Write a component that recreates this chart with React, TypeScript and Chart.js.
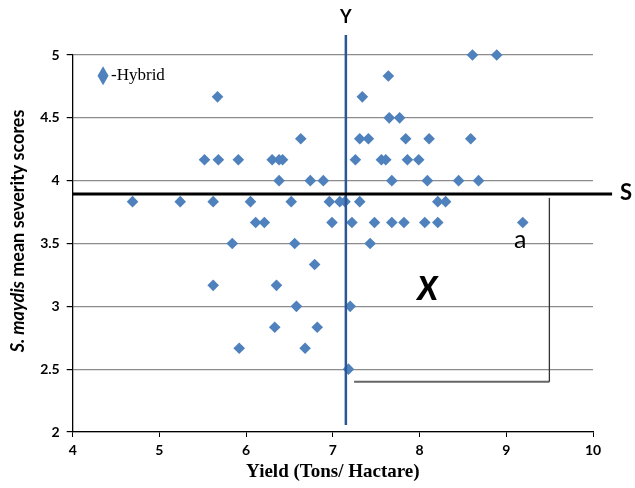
import React, { useEffect, useRef } from "react";
import { Chart, registerables } from "chart.js";

Chart.register(...registerables);

// Yield (Tons/Hactare) and S. maydis mean severity scores for each hybrid
const yieldValues: number[] = [
  8.61, 8.89,
  7.64,
  5.67, 7.34,
  7.65, 7.77,
  6.63, 7.31, 7.41, 7.84, 8.11, 8.59,
  5.52, 5.68, 5.91, 6.30, 6.38, 6.42, 7.26, 7.56, 7.61, 7.86, 7.99,
  6.38, 6.74, 6.89, 7.68, 8.09, 8.45, 8.68,
  4.69, 5.24, 5.62, 6.05, 6.52, 6.96, 7.08, 7.14, 7.31, 8.21, 8.30,
  6.11, 6.21, 6.99, 7.22, 7.48, 7.68, 7.82, 8.06, 8.21, 9.19,
  5.84, 6.56, 7.43,
  6.79,
  5.62, 6.35,
  6.58, 7.20,
  6.33, 6.82,
  5.92, 6.68,
  7.18,
];
const severityValues: number[] = [
  5, 5,
  4.833,
  4.667, 4.667,
  4.5, 4.5,
  4.333, 4.333, 4.333, 4.333, 4.333, 4.333,
  4.167, 4.167, 4.167, 4.167, 4.167, 4.167, 4.167, 4.167, 4.167, 4.167, 4.167,
  4, 4, 4, 4, 4, 4, 4,
  3.833, 3.833, 3.833, 3.833, 3.833, 3.833, 3.833, 3.833, 3.833, 3.833, 3.833,
  3.667, 3.667, 3.667, 3.667, 3.667, 3.667, 3.667, 3.667, 3.667, 3.667,
  3.5, 3.5, 3.5,
  3.333,
  3.167, 3.167,
  3, 3,
  2.833, 2.833,
  2.667, 2.667,
  2.5,
];

const xTicks: number[] = [4, 5, 6, 7, 8, 9, 10];
const yTicks: number[] = [2, 2.5, 3, 3.5, 4, 4.5, 5];

const seriesLabel = "-Hybrid";
const xTitle = "Yield (Tons/ Hactare)";
const yTitleItalic = "S. maydis";
const yTitleRest = " mean severity scores";

// reference lines (data units)
const yieldLineX = 7.15;
const yieldLineY: number[] = [5.16, 2.056];
const severityLineY = 3.893;
const severityLineX: number[] = [4, 10.22];
const bracketX: number[] = [7.245, 9.497];
const bracketY: number[] = [2.4, 3.863];

// annotation texts [text, x, y]
const labelY: [string, number, number] = ["Y", 7.15, 5.3];
const labelS: [string, number, number] = ["S", 10.38, 3.9];
const labelA: [string, number, number] = ["a", 9.16, 3.53];
const labelX: [string, number, number] = ["X", 8.09, 3.13];
const legendPos: [number, number] = [4.35, 4.834];
const yTitlePos: [number, number] = [3.6, 3.6]; // [x px-from-left in axis units not used, y value]

const BLUE = "#4F81BD";

const annotations = {
  id: "annotations",
  afterDatasetsDraw(chart: any) {
    const { ctx } = chart;
    const xs = chart.scales.x;
    const ys = chart.scales.y;
    const px = (v: number) => xs.getPixelForValue(v);
    const py = (v: number) => ys.getPixelForValue(v);
    ctx.save();
    // vertical blue line
    ctx.strokeStyle = "#2B5797";
    ctx.lineWidth = 2.5;
    ctx.beginPath();
    ctx.moveTo(px(yieldLineX), py(yieldLineY[0]));
    ctx.lineTo(px(yieldLineX), py(yieldLineY[1]));
    ctx.stroke();
    // horizontal black line
    ctx.strokeStyle = "#000";
    ctx.lineWidth = 3;
    ctx.beginPath();
    ctx.moveTo(px(severityLineX[0]), py(severityLineY));
    ctx.lineTo(px(severityLineX[1]), py(severityLineY));
    ctx.stroke();
    // bracket
    ctx.strokeStyle = "#666";
    ctx.lineWidth = 2;
    ctx.beginPath();
    ctx.moveTo(px(bracketX[0]), py(bracketY[0]));
    ctx.lineTo(px(bracketX[1]), py(bracketY[0]));
    ctx.stroke();
    ctx.strokeStyle = "#333";
    ctx.lineWidth = 1.3;
    ctx.beginPath();
    ctx.moveTo(px(bracketX[1]), py(bracketY[0]));
    ctx.lineTo(px(bracketX[1]), py(bracketY[1]));
    ctx.stroke();
    // texts
    ctx.fillStyle = "#000";
    ctx.textAlign = "center";
    ctx.textBaseline = "middle";
    ctx.font = "bold 18px Lato";
    ctx.fillText(labelY[0], px(labelY[1]), py(labelY[2]));
    ctx.font = "bold 22px Lato";
    ctx.fillText(labelS[0], px(labelS[1]), py(labelS[2]));
    ctx.font = "25px Lato";
    ctx.fillText(labelA[0], px(labelA[1]), py(labelA[2]));
    ctx.font = "italic 900 32px Lato";
    ctx.fillText(labelX[0], px(labelX[1]), py(labelX[2]));
    // legend
    const lx = px(legendPos[0]);
    const ly = py(legendPos[1]);
    ctx.fillStyle = BLUE;
    ctx.beginPath();
    ctx.moveTo(lx, ly - 9.5);
    ctx.lineTo(lx + 5.5, ly);
    ctx.lineTo(lx, ly + 9.5);
    ctx.lineTo(lx - 5.5, ly);
    ctx.closePath();
    ctx.fill();
    ctx.fillStyle = "#000";
    ctx.textAlign = "left";
    ctx.font = "17px 'Liberation Serif'";
    ctx.fillText(seriesLabel, lx + 8, ly);
    // y title
    const cy = py(yTitlePos[1]);
    ctx.translate(18, cy);
    ctx.rotate(-Math.PI / 2);
    ctx.font = "italic bold 18px Lato";
    const w1 = ctx.measureText(yTitleItalic).width;
    ctx.font = "bold 18px Lato";
    const w2 = ctx.measureText(yTitleRest).width;
    const start = -(w1 + w2) / 2;
    ctx.font = "italic bold 18px Lato";
    ctx.fillText(yTitleItalic, start, 0);
    ctx.font = "bold 18px Lato";
    ctx.fillText(yTitleRest, start + w1, 0);
    ctx.restore();
  },
};

export default function App() {
  const ref = useRef<HTMLCanvasElement | null>(null);
  useEffect(() => {
    if (!ref.current) return;
    const data = yieldValues.map((x, i) => ({ x, y: severityValues[i] }));
    const chart = new Chart(ref.current, {
      type: "scatter",
      data: {
        datasets: [
          {
            label: seriesLabel,
            data,
            pointStyle: "rectRot",
            pointRadius: 5.8,
            pointHoverRadius: 5.8,
            backgroundColor: BLUE,
            borderColor: BLUE,
            borderWidth: 0,
            clip: false,
          },
        ],
      },
      options: {
        animation: false,
        responsive: true,
        maintainAspectRatio: false,
        layout: { padding: { left: 0, top: 55, right: 42, bottom: 0 } },
        plugins: { legend: { display: false }, tooltip: { enabled: false } },
        scales: {
          x: {
            type: "linear",
            min: 4,
            max: 10,
            afterFit: (s: any) => {
              s.height = 56;
            },
            afterBuildTicks: (s: any) => {
              s.ticks = xTicks.map((v) => ({ value: v }));
            },
            border: { display: true, color: "#000", width: 1.3 },
            grid: { display: true, drawOnChartArea: false, drawTicks: true, tickLength: 5, color: "#000" },
            ticks: {
              color: "#000",
              padding: 5,
              font: { family: "Lato", weight: "bold", size: 14 },
              callback: (v: any) => String(v),
            },
            title: {
              display: true,
              text: xTitle,
              color: "#000",
              font: { family: "'Liberation Serif'", weight: "bold", size: 19 },
              padding: { top: 0, bottom: 5 },
            },
          },
          y: {
            type: "linear",
            min: 2,
            max: 5,
            afterFit: (s: any) => {
              s.width = 72.7;
            },
            afterBuildTicks: (s: any) => {
              s.ticks = yTicks.map((v) => ({ value: v }));
            },
            border: { display: true, color: "#000", width: 1.3 },
            grid: { color: "#8c8c8c", lineWidth: 1.2, tickLength: 6, tickColor: "#000" },
            ticks: {
              color: "#000",
              padding: 7,
              font: { family: "Lato", weight: "bold", size: 14 },
              callback: (v: any) => String(v),
            },
          },
        },
      },
      plugins: [annotations],
    });
    return () => chart.destroy();
  }, []);
  return (
    <div style={{ position: "absolute", left: 0, top: 0, width: 635, height: 488, background: "#fff" }}>
      <canvas ref={ref} />
    </div>
  );
}
